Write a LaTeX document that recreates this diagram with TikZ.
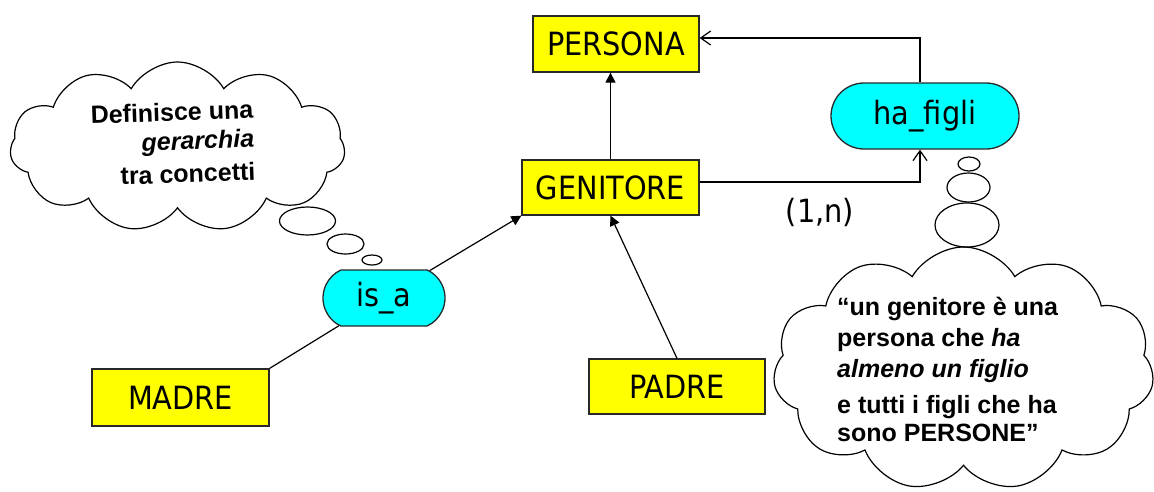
\documentclass[tikz,border=0pt]{standalone}
\usepackage{fontspec}
\setmainfont{Liberation Sans}
\newfontfamily\labelfont[FakeStretch=0.9]{DejaVu Sans}
\usepackage{tikz}
\usetikzlibrary{arrows.meta}
\usetikzlibrary{shapes.misc}
\usetikzlibrary{shapes.symbols}

\definecolor{entityyellow}{RGB}{255,255,0}
\definecolor{relcyan}{RGB}{0,255,255}
\definecolor{edgegray}{RGB}{40,40,40}

\tikzset{
    entity/.style={draw=edgegray, line width=1.3pt, fill=entityyellow, inner sep=0pt,
        font=\labelfont\fontsize{32}{38}\selectfont},
    relation/.style={draw=edgegray, line width=1.3pt, fill=relcyan, rounded rectangle,
        inner sep=0pt, font=\labelfont\fontsize{32}{38}\selectfont},
    thought/.style={draw=black, line width=1.2pt, fill=white, cloud, cloud puffs=11,
        cloud puff arc=120, cloud ignores aspect, inner sep=0pt},
    note/.style={inner sep=0pt, font=\bfseries\fontsize{25}{31}\selectfont},
    bubble/.style={draw=black, line width=1.2pt},
    link/.style={draw=black, line width=1.2pt},
}

\begin{document}
\begin{tikzpicture}[x=1pt, y=-1pt]
    \useasboundingbox (0,0) rectangle (1154,491);
    % clouds and their bubbles
    \node[thought, minimum width=335pt, minimum height=170pt] (leftcloud) at (177.5,147) {};
    \node[thought, minimum width=381pt, minimum height=244pt] (rightcloud) at (963.5,369) {};
    \draw[bubble] (307.5,221) ellipse [x radius=28pt, y radius=14pt];
    \draw[bubble] (345.5,244) ellipse [x radius=18.5pt, y radius=10pt];
    \draw[bubble] (372,260) ellipse [x radius=10pt, y radius=5pt];
    \draw[bubble] (969,164) ellipse [x radius=11pt, y radius=7pt];
    \draw[bubble] (968.5,187.5) ellipse [x radius=21.5pt, y radius=14.5pt];
    \draw[bubble] (967,225) ellipse [x radius=32pt, y radius=22pt];
    \node[note, align=right, rotate=2, font=\bfseries\fontsize{25}{29}\selectfont] (isanote) at (173,143)
        {Definisce una\\ \textit{gerarchia}\\[4pt] tra concetti};
    \node[note, align=left, anchor=north west] (hafiglinote) at (837,297)
        {“un genitore è una\\ persona che \textit{ha}\\ \textit{almeno un figlio}\\[5pt]
         e tutti i figli che ha\\[-3pt] sono PERSONE”};

    % schema
    \node[entity, minimum width=166pt, minimum height=56pt] (persona) at (616,44) {PERSONA};
    \node[entity, minimum width=177pt, minimum height=55pt] (genitore) at (610.5,187.5) {GENITORE};
    \node[relation, minimum width=188pt, minimum height=66pt] (hafigli) at (925,116) {ha\_figli};
    \node[relation, rounded rectangle arc length=130, minimum width=122pt, minimum height=56pt] (isa) at (384,298) {is\_a};
    \node[entity, minimum width=177pt, minimum height=57pt] (madre) at (180.5,397.5) {MADRE};
    \node[entity, minimum width=176pt, minimum height=55pt] (padre) at (677,386.5) {PADRE};
    \node[inner sep=0pt, font=\labelfont\fontsize{32}{38}\selectfont] (card) at (820,212) {(1,n)};

    \draw[link,-{Triangle[length=10pt,width=10pt]}] (genitore) -- (genitore |- persona.south);
    \draw[link,-{Triangle[length=10pt,width=10pt]}] (isa) -- (genitore.south west);
    \draw[link] (madre.north east) -- (isa);
    \draw[link,-{Triangle[length=10pt,width=10pt]}] (padre.north) -- (genitore.south);
    \draw[link,-{Straight Barb[length=10pt,width=14pt]}] ([yshift=5.5pt]genitore.east) -| ([xshift=-5pt]hafigli.south);
    \draw[link,-{Straight Barb[length=10pt,width=14pt]}] ([xshift=-5pt]hafigli.north) |- ([yshift=6pt]persona.east);
\end{tikzpicture}
\end{document}
